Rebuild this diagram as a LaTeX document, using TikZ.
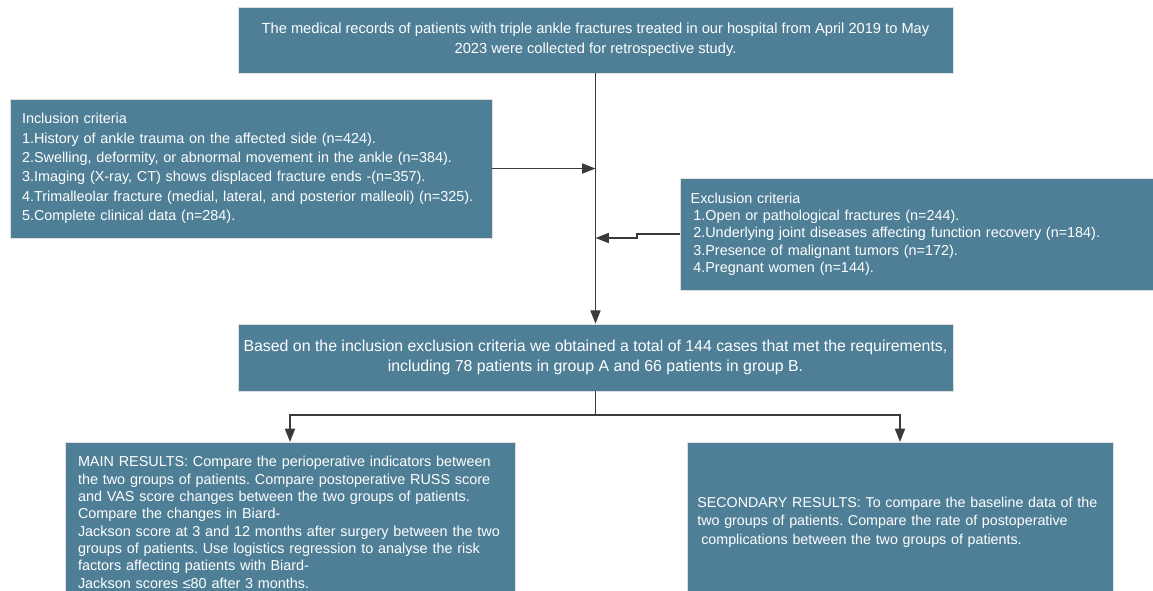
\documentclass[tikz,border=0pt]{standalone}
\usepackage{fontspec}
\setmainfont{Liberation Sans}
\usepackage{xcolor}
\usetikzlibrary{arrows.meta,positioning}
\definecolor{boxblue}{RGB}{78,127,150}
\definecolor{linegray}{RGB}{58,58,58}
\frenchspacing

\begin{document}
\begin{tikzpicture}[
    x=0.75pt, y=-0.75pt,
    box/.style={rectangle, draw=gray!25, fill=boxblue, text=white, inner sep=0pt},
    flow/.style={draw=linegray, line width=1.3pt},
    arrow/.style={flow, -{Triangle[length=10pt, width=7.5pt]}},
]
    \useasboundingbox (0,0) rectangle (1153,590);

    % Records (top)
    \node[box, minimum width=536.25pt, minimum height=49.5pt, align=center,
          font=\fontsize{11}{15}\selectfont] (records) at (595.5,40)
        {The medical records of patients with triple ankle fractures treated in our hospital from April 2019 to May\\
         2023 were collected for retrospective study.};

    % Criteria
    \node[box, text width=343.5pt, inner xsep=9pt, minimum height=104.25pt, align=left,
          font=\fontsize{10.8}{14.6}\selectfont] (incl) at (251,168.5)
        {Inclusion criteria\\
         1.History of ankle trauma on the affected side (n=424).\\
         2.Swelling, deformity, or abnormal movement in the ankle (n=384).\\
         3.Imaging (X-ray, CT) shows displaced fracture ends -(n=357).\\
         4.Trimalleolar fracture (medial, lateral, and posterior malleoli) (n=325).\\
         5.Complete clinical data (n=284).};
    \node[box, text width=338.75pt, inner xsep=8pt, minimum height=84pt, align=left,
          font=\fontsize{10.8}{13}\selectfont] (excl) at (916.5,234)
        {Exclusion criteria\\
         \hspace*{2pt}1.Open or pathological fractures (n=244).\\
         \hspace*{2pt}2.Underlying joint diseases affecting function recovery (n=184).\\
         \hspace*{2pt}3.Presence of malignant tumors (n=172).\\
         \hspace*{2pt}4.Pregnant women (n=144).};

    % Included cases
    \node[box, minimum width=536.25pt, minimum height=50.25pt, align=center,
          font=\fontsize{11.9}{15}\selectfont] (pool) at (595.5,357.5)
        {Based on the inclusion exclusion criteria we obtained a total of 144 cases that met the requirements,\\
         including 78 patients in group A and 66 patients in group B.};

    % Results
    \node[box, anchor=north, text width=318pt, inner xsep=9.75pt, minimum height=120pt, align=left,
          font=\fontsize{10.8}{13}\selectfont] (mainres) at (290,442)
        {MAIN RESULTS: Compare the perioperative indicators between\\
         the two groups of patients. Compare postoperative RUSS score\\
         and VAS score changes between the two groups of patients.\\
         Compare the changes in Biard-\\
         Jackson score at 3 and 12 months after surgery between the two\\
         groups of patients. Use logistics regression to analyse the risk\\
         factors affecting patients with Biard-\\
         Jackson scores ≤80 after 3 months.};
    \node[box, anchor=north, text width=304pt, inner xsep=7.75pt, minimum height=120pt, align=left,
          font=\fontsize{10.7}{13.7}\selectfont] (secres) at (900,442)
        {SECONDARY RESULTS: To compare the baseline data of the\\
         two groups of patients. Compare the rate of postoperative\\
         \hspace*{3pt}complications between the two groups of patients.};

    % Connectors
    \coordinate (exbend) at (637,234);
    \coordinate (exjoin) at (595.5,238);
    \coordinate (split) at (595.5,415);
    \draw[arrow] (records.south) -- (pool.north);
    \draw[arrow] (incl.east) -- (incl.east -| records.south);
    \draw[arrow] (excl.west) -- (exbend) |- (exjoin);
    \draw[flow] (pool.south) -- (split);
    \draw[arrow] (split) -| (mainres.north);
    \draw[arrow] (split) -| (secres.north);
\end{tikzpicture}
\end{document}
